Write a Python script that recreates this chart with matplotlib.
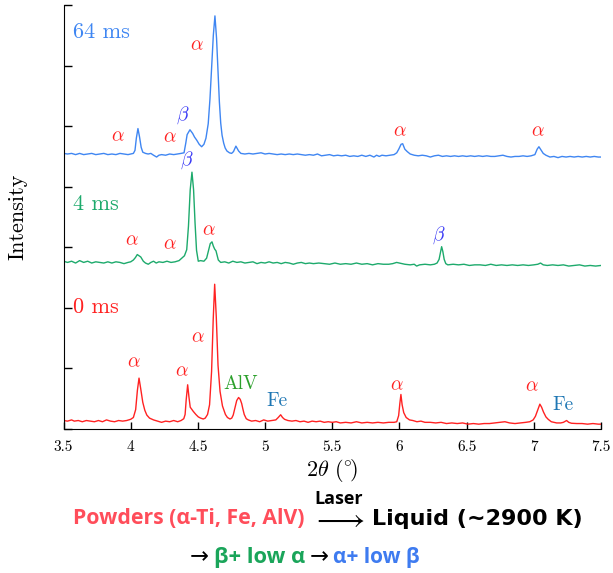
import matplotlib
matplotlib.use("Agg")
import matplotlib.pyplot as plt

plt.rcParams["font.family"] = "serif"
plt.rcParams["font.serif"] = ["cmr10"]
plt.rcParams["mathtext.fontset"] = "cm"
plt.rcParams["axes.formatter.use_mathtext"] = True

# diffraction patterns (2theta in degrees, intensity with vertical offsets)
red_x = [3.50, 3.53, 3.56, 3.58, 3.61, 3.64, 3.67, 3.70, 3.73, 3.76, 3.79, 3.82, 3.85, 3.88,
         3.91, 3.94, 3.97, 4.00, 4.02, 4.037, 4.050, 4.062, 4.075, 4.090, 4.105, 4.120, 4.140,
         4.17, 4.20, 4.23, 4.26, 4.29, 4.32, 4.35, 4.375, 4.395, 4.405, 4.413, 4.424, 4.434,
         4.443, 4.466, 4.485, 4.503, 4.52, 4.54, 4.555, 4.572, 4.587, 4.602, 4.614, 4.625,
         4.637, 4.650, 4.665, 4.683, 4.705, 4.72, 4.739, 4.752, 4.763, 4.775, 4.789, 4.803,
         4.815, 4.826, 4.835, 4.845, 4.86, 4.875, 4.90, 4.93, 4.96, 4.99, 5.02, 5.05, 5.08,
         5.098, 5.116, 5.13, 5.145, 5.17, 5.20, 5.23, 5.26, 5.29, 5.32, 5.35, 5.38, 5.41, 5.44,
         5.47, 5.50, 5.53, 5.56, 5.60, 5.64, 5.68, 5.72, 5.76, 5.80, 5.84, 5.88, 5.92, 5.96,
         5.98, 5.994, 6.003, 6.011, 6.020, 6.032, 6.050, 6.075, 6.10, 6.13, 6.16, 6.19, 6.23,
         6.27, 6.31, 6.35, 6.39, 6.43, 6.47, 6.51, 6.55, 6.59, 6.63, 6.67, 6.71, 6.75, 6.785,
         6.82, 6.86, 6.90, 6.94, 6.97, 6.995, 7.012, 7.027, 7.045, 7.058, 7.072, 7.09, 7.107,
         7.13, 7.17, 7.20, 7.22, 7.244, 7.26, 7.28, 7.32, 7.36, 7.40, 7.44, 7.48, 7.50]
red_y = [0.14, 0.13, 0.15, 0.13, 0.14, 0.12, 0.14, 0.13, 0.12, 0.14, 0.12, 0.15, 0.13, 0.12,
         0.14, 0.13, 0.14, 0.16, 0.19, 0.32, 0.64, 0.84, 0.66, 0.44, 0.31, 0.23, 0.18,
         0.15, 0.13, 0.11, 0.13, 0.12, 0.14, 0.12, 0.14, 0.17, 0.24, 0.48, 0.73, 0.52,
         0.36, 0.29, 0.24, 0.20, 0.18, 0.165, 0.18, 0.24, 0.40, 0.95, 1.80, 2.39,
         1.85, 1.05, 0.62, 0.38, 0.24, 0.19, 0.165, 0.18, 0.23, 0.34, 0.47, 0.52,
         0.49, 0.42, 0.33, 0.24, 0.17, 0.15, 0.13, 0.14, 0.12, 0.15, 0.13, 0.14, 0.15,
         0.19, 0.235, 0.19, 0.16, 0.14, 0.13, 0.14, 0.12, 0.13, 0.11, 0.13, 0.12, 0.13, 0.11,
         0.12, 0.11, 0.12, 0.10, 0.11, 0.10, 0.12, 0.10, 0.11, 0.10, 0.11, 0.10, 0.11, 0.11,
         0.12, 0.22, 0.42, 0.57, 0.40, 0.27, 0.19, 0.15, 0.14, 0.12, 0.13, 0.11, 0.11,
         0.10, 0.11, 0.09, 0.10, 0.09, 0.10, 0.08, 0.09, 0.08, 0.09, 0.09, 0.10, 0.11, 0.12,
         0.10, 0.09, 0.10, 0.11, 0.12, 0.15, 0.21, 0.30, 0.41, 0.36, 0.28, 0.20, 0.16,
         0.12, 0.10, 0.10, 0.11, 0.14, 0.11, 0.095, 0.09, 0.09, 0.08, 0.09, 0.08, 0.08]

green_x = [3.50, 3.53, 3.56, 3.59, 3.62, 3.65, 3.68, 3.71, 3.74, 3.77, 3.80, 3.83, 3.86, 3.89,
           3.92, 3.95, 3.98, 4.00, 4.02, 4.035, 4.049, 4.062, 4.075, 4.094, 4.11, 4.131, 4.15,
           4.17, 4.19, 4.21, 4.24, 4.27, 4.30, 4.33, 4.36, 4.38, 4.40, 4.417, 4.430, 4.443,
           4.456, 4.468, 4.479, 4.490, 4.503, 4.52, 4.545, 4.565, 4.58, 4.592, 4.605, 4.615,
           4.625, 4.635, 4.652, 4.67, 4.70, 4.73, 4.76, 4.79, 4.82, 4.85, 4.88, 4.91, 4.94, 4.97,
           5.00, 5.03, 5.06, 5.09, 5.12, 5.15, 5.18, 5.21, 5.24, 5.27, 5.30, 5.33, 5.36, 5.40,
           5.44, 5.48, 5.52, 5.56, 5.60, 5.64, 5.68, 5.72, 5.76, 5.80, 5.84, 5.88, 5.92, 5.95,
           5.979, 6.00, 6.04, 6.08, 6.11, 6.128, 6.15, 6.19, 6.23, 6.26, 6.28, 6.295, 6.306,
           6.314, 6.323, 6.333, 6.345, 6.36, 6.40, 6.44, 6.48, 6.52, 6.56, 6.60, 6.64, 6.68,
           6.72, 6.76, 6.80, 6.84, 6.88, 6.92, 6.96, 7.00, 7.03, 7.05, 7.07, 7.10, 7.14, 7.18,
           7.22, 7.26, 7.30, 7.34, 7.38, 7.42, 7.46, 7.50]
green_y = [2.77, 2.75, 2.77, 2.74, 2.78, 2.75, 2.77, 2.74, 2.76, 2.75, 2.74, 2.76, 2.74, 2.76,
           2.75, 2.73, 2.75, 2.76, 2.79, 2.83, 2.88, 2.86, 2.84, 2.77, 2.74, 2.72, 2.75,
           2.77, 2.74, 2.76, 2.75, 2.77, 2.75, 2.76, 2.78, 2.82, 2.86, 2.96, 3.35, 3.95,
           4.24, 3.95, 3.40, 2.95, 2.77, 2.78, 2.77, 2.82, 2.95, 3.06, 3.09, 3.02,
           2.97, 2.94, 2.79, 2.75, 2.76, 2.74, 2.77, 2.75, 2.76, 2.74, 2.75, 2.76, 2.73, 2.75,
           2.74, 2.76, 2.74, 2.75, 2.73, 2.75, 2.74, 2.72, 2.74, 2.75, 2.73, 2.74, 2.73, 2.74,
           2.73, 2.72, 2.74, 2.72, 2.73, 2.72, 2.74, 2.72, 2.73, 2.71, 2.73, 2.72, 2.72, 2.73,
           2.75, 2.74, 2.72, 2.71, 2.72, 2.69, 2.71, 2.72, 2.71, 2.72, 2.74, 2.80, 2.92,
           3.01, 2.93, 2.80, 2.73, 2.71, 2.72, 2.71, 2.72, 2.70, 2.71, 2.71, 2.70, 2.72,
           2.70, 2.71, 2.70, 2.71, 2.70, 2.71, 2.70, 2.71, 2.72, 2.74, 2.71, 2.70, 2.71, 2.70,
           2.71, 2.69, 2.70, 2.71, 2.69, 2.70, 2.69, 2.70]

blue_x = [3.50, 3.53, 3.56, 3.59, 3.62, 3.65, 3.68, 3.71, 3.74, 3.77, 3.80, 3.83, 3.86, 3.89,
          3.92, 3.95, 3.98, 4.00, 4.02, 4.032, 4.042, 4.054, 4.066, 4.078, 4.09, 4.11, 4.13,
          4.15, 4.17, 4.193, 4.21, 4.23, 4.26, 4.29, 4.32, 4.35, 4.375, 4.397, 4.41, 4.42,
          4.441, 4.461, 4.475, 4.491, 4.51, 4.528, 4.545, 4.56, 4.577, 4.59, 4.603, 4.615,
          4.627, 4.639, 4.650, 4.660, 4.670, 4.680, 4.692, 4.703, 4.716, 4.735, 4.751, 4.765,
          4.783, 4.795, 4.803, 4.82, 4.85, 4.88, 4.91, 4.94, 4.97, 5.00, 5.03, 5.06, 5.09, 5.12,
          5.15, 5.18, 5.21, 5.24, 5.27, 5.30, 5.33, 5.36, 5.39, 5.42, 5.45, 5.48, 5.51, 5.54,
          5.57, 5.60, 5.63, 5.66, 5.69, 5.72, 5.75, 5.78, 5.81, 5.83, 5.85, 5.87, 5.90, 5.93,
          5.96, 5.98, 5.995, 6.012, 6.024, 6.04, 6.058, 6.08, 6.11, 6.14, 6.17, 6.20, 6.23,
          6.26, 6.29, 6.32, 6.35, 6.38, 6.41, 6.44, 6.47, 6.50, 6.53, 6.56, 6.59, 6.62, 6.65,
          6.68, 6.71, 6.74, 6.77, 6.80, 6.83, 6.86, 6.89, 6.92, 6.95, 6.98, 7.008, 7.025,
          7.038, 7.055, 7.07, 7.09, 7.12, 7.15, 7.18, 7.21, 7.24, 7.27, 7.30, 7.33, 7.36,
          7.39, 7.42, 7.45, 7.48, 7.50]
blue_y = [4.55, 4.54, 4.55, 4.53, 4.55, 4.53, 4.54, 4.55, 4.53, 4.54, 4.55, 4.53, 4.54, 4.53,
          4.55, 4.54, 4.53, 4.54, 4.55, 4.60, 4.80, 4.96, 4.82, 4.65, 4.57, 4.55, 4.54,
          4.55, 4.52, 4.49, 4.52, 4.53, 4.52, 4.54, 4.53, 4.54, 4.55, 4.56, 4.72, 4.86,
          4.94, 4.88, 4.82, 4.77, 4.70, 4.66, 4.70, 4.80, 5.04, 5.45, 5.98, 6.50,
          6.82, 6.45, 5.90, 5.40, 5.05, 4.85, 4.72, 4.64, 4.59, 4.56, 4.55, 4.58,
          4.67, 4.62, 4.59, 4.55, 4.54, 4.55, 4.54, 4.55, 4.56, 4.54, 4.55, 4.54, 4.53, 4.54,
          4.53, 4.54, 4.53, 4.54, 4.53, 4.52, 4.53, 4.52, 4.54, 4.51, 4.52, 4.53, 4.51, 4.52,
          4.51, 4.52, 4.50, 4.51, 4.50, 4.52, 4.50, 4.52, 4.49, 4.52, 4.50, 4.52, 4.51, 4.52,
          4.53, 4.56, 4.62, 4.70, 4.71, 4.62, 4.58, 4.54, 4.52, 4.51, 4.52, 4.51, 4.49,
          4.51, 4.52, 4.50, 4.51, 4.50, 4.51, 4.50, 4.51, 4.50, 4.51, 4.50, 4.51, 4.50, 4.51,
          4.50, 4.50, 4.51, 4.52, 4.50, 4.49, 4.50, 4.50, 4.51, 4.50, 4.51, 4.53, 4.62,
          4.66, 4.60, 4.55, 4.52, 4.49, 4.50, 4.48, 4.50, 4.49, 4.50, 4.49, 4.50, 4.49,
          4.50, 4.49, 4.50, 4.49, 4.49]

x_ticks = [3.5, 4, 4.5, 5, 5.5, 6, 6.5, 7, 7.5]
x_tick_labels = ["3.5", "4", "4.5", "5", "5.5", "6", "6.5", "7", "7.5"]

RED = "#ff2222"
GREEN = "#1daa6c"
BLUE = "#3f86f2"
BETA = "#3a3af5"

# phase labels: (x, y, text, color)
peak_labels = [
    (4.493, 6.34, r"$\alpha$", RED), (4.39, 5.18, r"$\beta$", BETA),
    (3.903, 4.835, r"$\alpha$", RED), (4.292, 4.81, r"$\alpha$", RED),
    (6.004, 4.92, r"$\alpha$", RED), (7.033, 4.92, r"$\alpha$", RED),
    (4.419, 4.44, r"$\beta$", BETA), (4.007, 3.12, r"$\alpha$", RED),
    (4.292, 3.05, r"$\alpha$", RED), (4.585, 3.28, r"$\alpha$", RED),
    (6.289, 3.20, r"$\beta$", BETA),
    (4.025, 1.10, r"$\alpha$", RED), (4.379, 0.946, r"$\alpha$", RED),
    (4.496, 1.507, r"$\alpha$", RED), (5.979, 0.726, r"$\alpha$", RED),
    (6.984, 0.698, r"$\alpha$", RED),
]
phase_labels = [
    (4.821, 0.737, "AlV", "#2ca02c"), (5.091, 0.467, "Fe", "#1f77b4"),
    (7.219, 0.396, "Fe", "#1f77b4"),
]
time_labels = [(3.57, 6.55, "64 ms", BLUE), (3.57, 3.71, "4 ms", GREEN),
               (3.57, 2.005, "0 ms", RED)]

W, H = 613, 573
fig = plt.figure(figsize=(W / 100, H / 100), dpi=100)
ax = fig.add_axes([63.5 / W, (H - 429) / H, (601 - 63.5) / W, (429 - 5) / H])

ax.plot(red_x, red_y, color=RED, lw=1.0)
ax.plot(green_x, green_y, color=GREEN, lw=1.0)
ax.plot(blue_x, blue_y, color=BLUE, lw=1.0)

for x, y, s, c in peak_labels:
    ax.text(x, y, s, color=c, fontsize=14, ha="center", va="center")
for x, y, s, c in phase_labels:
    ax.text(x, y, s, color=c, fontsize=14, ha="center", va="center")
for x, y, s, c in time_labels:
    ax.text(x, y, s, color=c, fontsize=16, ha="left", va="center")

ax.set_xlim(3.5, 7.5)
ax.set_ylim(0, 7)
ax.set_xticks(x_ticks)
ax.set_xticklabels(x_tick_labels)
ax.set_yticks(range(8))
ax.set_yticklabels([])
ax.tick_params(direction="in", length=5, width=1, labelsize=11, pad=8)
ax.tick_params(axis="y", length=6)
for side in ["top", "right"]:
    ax.spines[side].set_visible(False)
ax.set_xlabel(r"$2\theta\ (^{\circ}\!)$", fontsize=16, labelpad=2)
ax.set_ylabel("Intensity", fontsize=16, labelpad=18)

# process summary written underneath the axes
SANS = ["Open Sans", "DejaVu Sans"]
renderer = fig.canvas.get_renderer()


def fitted_text(s, left, right, y, color, size, weight="bold", family=SANS):
    # scale the font so the string spans left..right pixels
    t = fig.text(left / W, 1 - y / H, s, color=color, fontsize=size, family=family,
                 weight=weight, ha="left", va="center")
    width = t.get_window_extent(renderer=renderer).width
    t.set_fontsize(size * (right - left) / width)
    return t


fitted_text("Powders (α-Ti, Fe, AlV)", 73, 305, 519, "#ff4d5a", 15)
fig.text(372 / W, 1 - 519 / H, "Liquid (~2900 K)", color="black", fontsize=16,
         family="DejaVu Sans", weight="bold", ha="left", va="center")
fig.text(338 / W, 1 - 520 / H, r"$\longrightarrow$", fontsize=22, ha="center", va="center",
         color="black")
fig.text(339 / W, 1 - 499 / H, "Laser", fontsize=13, family=SANS, weight="bold",
         ha="center", va="center", color="black")
fitted_text("→", 190, 209, 557, "black", 15, weight="normal")
fitted_text("β+ low α", 214, 305, 557, "#1aa55a", 15)
fitted_text("→", 310, 329, 557, "black", 15, weight="normal")
fitted_text("α+ low β", 333, 420, 557, "#3e7bf0", 15)

fig.savefig("out.png", dpi=100)
